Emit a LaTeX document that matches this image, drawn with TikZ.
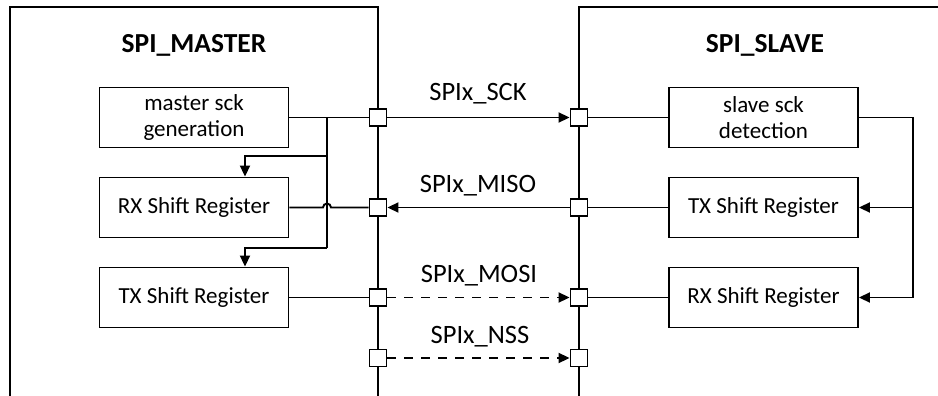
\documentclass[tikz,border=0pt]{standalone}
\usepackage{fontspec}
\setmainfont{Carlito}
\usetikzlibrary{arrows.meta}
\tikzset{
	wire/.style={line width=1.9pt},
	tip/.style={-{Triangle[length=11pt,width=10pt]}},
	dsh/.style={dash pattern=on 9pt off 8pt},
	blk/.style={draw, line width=1.9pt, minimum width=189pt, minimum height=60pt, inner sep=2pt, align=center, font=\fontsize{23}{26}\selectfont},
	pin/.style={draw, fill=white, line width=1.9pt, minimum size=17pt, inner sep=0pt},
	sig/.style={anchor=base, font=\fontsize{26.5}{30}\selectfont},
	ttl/.style={anchor=base, font=\fontsize{27.5}{32}\selectfont\bfseries}
}

\begin{document}
\begin{tikzpicture}[x=1pt, y=-1pt]
		\useasboundingbox (0,0) rectangle (938,396);
		%%%%% START %%%%%
		\draw[wire] (10,400) -- (10,7) -- (378,7) -- (378,400);
		\draw[wire] (945,7) -- (579,7) -- (579,400);
		
		\node[ttl] (mttl) at (194,53) {SPI\_MASTER};
		\node[ttl] (sttl) at (765,53) {SPI\_SLAVE};
		
		\node[blk] (mgen) at (194,117.5) {master sck\\generation};
		\node[blk] (mrx) at (194,207.5) {RX Shift Register};
		\node[blk] (mtx) at (194,297.5) {TX Shift Register};
		
		\node[blk] (sdet) at (763.5,117.5) {slave sck\\detection};
		\node[blk] (stx) at (763.5,207.5) {TX Shift Register};
		\node[blk] (srx) at (763.5,297.5) {RX Shift Register};
		
		\foreach \n/\y in {sck/117.5, miso/207.5, mosi/297.5, nss/358} {
			\node[pin] (m\n) at (378,\y) {};
			\node[pin] (s\n) at (579,\y) {};
		}
		
		\node[sig] (lsck) at (478,101) {SPIx\_SCK};
		\node[sig] (lmiso) at (478,192) {SPIx\_MISO};
		\node[sig] (lmosi) at (479,282) {SPIx\_MOSI};
		\node[sig] (lnss) at (480,343) {SPIx\_NSS};
		
		% master side
		\coordinate (mfork) at (327,117.5);
		\coordinate (mtap1) at (327,156);
		\coordinate (mtap2) at (327,248);
		\draw[wire] (mgen) -- (msck);
		\draw[wire] (mfork) -- (mtap2);
		\draw[wire,tip] (mtap1) -| ([xshift=51pt]mrx.north);
		\draw[wire,tip] (mtap2) -| ([xshift=51pt]mtx.north);
		\draw[wire] (mrx.east) -- (323,207.5) arc (180:360:4) -- (mmiso.west);
		\draw[wire] (mtx) -- (mmosi);
		
		% lines between
		\draw[wire,tip] (msck) -- (ssck);
		\draw[wire,tip] (smiso) -- (mmiso);
		\draw[wire,tip,dsh] (mmosi) -- (smosi);
		\draw[wire,tip,dsh] (mnss) -- (snss);
		
		% slave side
		\coordinate (sfork) at (913,117.5);
		\coordinate (stap) at (913,207.5);
		\draw[wire] (ssck) -- (sdet);
		\draw[wire] (stx) -- (smiso);
		\draw[wire] (smosi) -- (srx);
		\draw[wire,tip] (sdet.east) -- (sfork) |- (srx.east);
		\draw[wire,tip] (stap) -- (stx.east);
		%%%%% END %%%%%
\end{tikzpicture}
\end{document}
